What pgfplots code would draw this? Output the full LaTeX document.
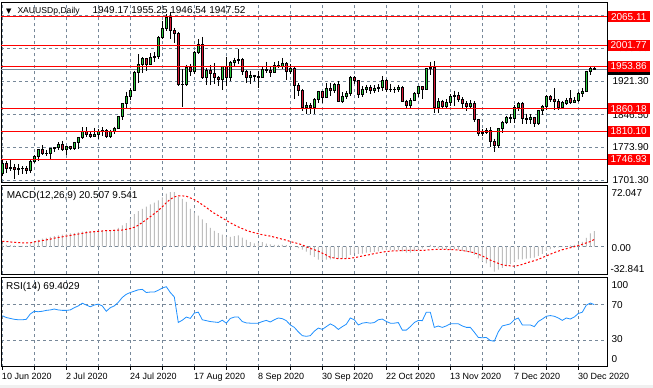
\documentclass[border=0pt]{standalone}
\usepackage{pgfplots}
\pgfplotsset{compat=1.18}
\usepackage{pgfplotstable}
\usepackage{fontspec}
\setmainfont{Liberation Sans}
\newfontfamily\dejavu{DejaVu Sans}
\newcommand\mtf{\fontsize{9}{10}\selectfont}
\definecolor{mtgrid}{RGB}{119,136,153}
\definecolor{bull}{RGB}{40,200,60}
\definecolor{bear}{RGB}{215,25,55}
\definecolor{histgray}{RGB}{190,190,190}
\definecolor{rsiblue}{RGB}{30,144,255}
\definecolor{lvl}{RGB}{255,0,0}

\pgfplotstableread{
i O H L C
0 1715 1745 1709 1738
1 1738 1744 1717 1727
2 1727 1745 1721 1729
3 1729 1737 1704 1725
4 1725 1736 1712 1727
5 1727 1732 1714 1726
6 1726 1731 1715 1722
7 1722 1745 1716 1743
8 1743 1756 1739 1754
9 1754 1769 1744 1768
10 1768 1779 1757 1761
11 1761 1768 1754 1760
12 1760 1772 1747 1771
13 1771 1774 1763 1773
14 1773 1785 1767 1781
15 1781 1788 1765 1769
16 1769 1776 1757 1775
17 1775 1777 1768 1772
18 1772 1786 1767 1784
19 1784 1797 1771 1795
20 1795 1818 1792 1809
21 1809 1818 1797 1803
22 1803 1808 1794 1799
23 1799 1817 1796 1802
24 1802 1814 1793 1809
25 1809 1818 1800 1811
26 1811 1814 1795 1797
27 1797 1813 1794 1810
28 1810 1820 1804 1817
29 1817 1843 1816 1842
30 1842 1872 1835 1871
31 1871 1898 1862 1888
32 1888 1905 1879 1901
33 1901 1945 1899 1941
34 1941 1981 1918 1958
35 1958 1975 1939 1971
36 1971 1974 1945 1958
37 1958 1984 1957 1975
38 1975 1986 1964 1977
39 1977 2021 1971 2019
40 2019 2055 2016 2038
41 2038 2070 2034 2063
42 2063 2075 2015 2035
43 2035 2040 2007 2028
44 2028 2032 1910 1913
45 1913 1949 1863 1915
46 1915 1958 1910 1953
47 1953 1960 1933 1944
48 1944 1989 1937 1985
49 1985 2015 1982 2003
50 2003 2020 1927 1929
51 1929 1951 1912 1946
52 1946 1957 1913 1938
53 1938 1961 1916 1929
54 1929 1932 1911 1926
55 1926 1955 1901 1954
56 1954 1976 1911 1930
57 1930 1966 1922 1964
58 1964 1974 1954 1968
59 1968 1992 1960 1970
60 1970 1973 1936 1943
61 1943 1946 1917 1930
62 1930 1945 1915 1934
63 1934 1936 1922 1931
64 1931 1945 1906 1930
65 1930 1953 1928 1947
66 1947 1965 1940 1946
67 1946 1952 1931 1941
68 1941 1964 1939 1956
69 1956 1966 1950 1955
70 1955 1973 1948 1960
71 1960 1963 1923 1944
72 1944 1959 1938 1950
73 1950 1955 1882 1912
74 1912 1917 1889 1900
75 1900 1904 1854 1863
76 1863 1875 1849 1868
77 1868 1873 1849 1862
78 1862 1883 1848 1881
79 1881 1900 1872 1898
80 1898 1900 1872 1886
81 1886 1917 1883 1906
82 1906 1918 1889 1900
83 1900 1918 1895 1913
84 1913 1921 1874 1877
85 1877 1896 1873 1888
86 1888 1900 1881 1894
87 1894 1933 1889 1930
88 1930 1933 1916 1922
89 1922 1924 1883 1891
90 1891 1911 1885 1902
91 1902 1913 1895 1908
92 1908 1913 1892 1900
93 1900 1912 1895 1905
94 1905 1914 1897 1907
95 1907 1932 1900 1924
96 1924 1927 1897 1904
97 1904 1916 1898 1902
98 1902 1909 1894 1903
99 1903 1912 1898 1908
100 1908 1911 1875 1877
101 1877 1880 1859 1868
102 1868 1884 1861 1879
103 1879 1897 1876 1894
104 1894 1911 1886 1909
105 1909 1910 1882 1904
106 1904 1951 1903 1949
107 1949 1965 1935 1951
108 1951 1966 1850 1862
109 1862 1883 1851 1877
110 1877 1880 1860 1866
111 1866 1881 1862 1873
112 1873 1892 1865 1888
113 1888 1900 1865 1889
114 1889 1898 1874 1881
115 1881 1885 1862 1872
116 1872 1877 1855 1866
117 1866 1879 1862 1871
118 1871 1876 1830 1837
119 1837 1838 1800 1805
120 1805 1814 1800 1808
121 1808 1816 1804 1811
122 1811 1819 1775 1788
123 1788 1793 1764 1777
124 1777 1817 1773 1815
125 1815 1833 1806 1830
126 1830 1844 1826 1841
127 1841 1848 1828 1839
128 1839 1867 1827 1863
129 1863 1875 1854 1871
130 1871 1875 1826 1839
131 1839 1849 1825 1837
132 1837 1848 1825 1840
133 1840 1842 1820 1828
134 1828 1857 1823 1855
135 1855 1869 1846 1864
136 1864 1890 1856 1887
137 1887 1890 1874 1881
138 1881 1906 1856 1876
139 1876 1882 1858 1862
140 1862 1878 1860 1874
141 1872 1884 1868 1879
142 1882 1901 1870 1875
143 1875 1885 1872 1878
144 1878 1896 1874 1895
145 1895 1906 1885 1899
146 1899 1945 1897 1943
147 1943 1953 1935 1950
148 1949.17 1955.25 1946.54 1947.52
}\candles

\pgfplotstableread{
i h s
0 3 7.2
1 2.5 6.8
2 2 6.3
3 1.5 5.9
4 1 5.4
5 1 5.0
6 1 5.0
7 3 5.0
8 6 6.3
9 9 7.2
10 10.5 8.1
11 11.5 9
12 13 9.9
13 14 11.3
14 15 12.2
15 16 13
16 17 14
17 17.5 14.9
18 18 15.8
19 19 16.7
20 20 17.6
21 20.5 18.5
22 20 19.4
23 20.5 19.8
24 21 20.3
25 21.5 20.7
26 21 21.2
27 21.5 21.2
28 22.5 21.6
29 25 22
30 28 22
31 31 23
32 37 23.9
33 43 25.7
34 47 28.4
35 50 32
36 53 35.6
37 56 39.6
38 58 43.7
39 61 47.7
40 65 52.7
41 70 58
42 72.047 62.6
43 72 65.7
44 66 67
45 63 67
46 59 66.6
47 50 64.4
48 45 62.1
49 41 59
50 36 55.4
51 31 51.8
52 25 47.7
53 21 44.1
54 18 41
55 16 37.8
56 13 34.7
57 13 31.5
58 14 28.8
59 15 26.1
60 12 23.9
61 9 21.6
62 6 19.8
63 4.5 18.5
64 5 17.1
65 6 15.8
66 4 14.9
67 3 14
68 2.5 12.6
69 2.5 11.3
70 2.5 9.9
71 2 8.6
72 1 6.8
73 0 5.4
74 -2 4.1
75 -4 2.3
76 -6.5 0
77 -11 -2.3
78 -13.5 -4
79 -17 -5.9
80 -17.5 -8.5
81 -17 -11
82 -16.7 -14
83 -15.3 -14.9
84 -15.8 -15.8
85 -15.8 -15.8
86 -15.3 -15.8
87 -10.8 -15.3
88 -8.6 -14.4
89 -9.5 -13.5
90 -9 -12.2
91 -7.7 -11.3
92 -7.2 -10.4
93 -6.8 -9
94 -6.3 -8.1
95 -4 -7.2
96 -4 -6.3
97 -4.5 -5.9
98 -5 -5.4
99 -4.5 -5.4
100 -6.3 -5
101 -7.7 -5
102 -7.7 -5
103 -5.8 -5
104 -3.2 -5
105 -2.3 -5
106 0.5 -4.5
107 2.3 -4
108 -1 -3.6
109 -2.3 -3.6
110 -3.2 -3.6
111 -3.6 -3.6
112 -3.2 -4
113 -3.2 -4
114 -4 -4.5
115 -5.4 -5
116 -6.8 -5.9
117 -7.7 -6.8
118 -10.8 -8.1
119 -15.3 -9.9
120 -18.9 -12.2
121 -22 -14.9
122 -27 -17.6
123 -32.841 -19.8
124 -30.2 -22
125 -27.9 -23.9
126 -25.7 -24.8
127 -23 -25.2
128 -19.8 -25.7
129 -16.7 -24.8
130 -16.7 -23.4
131 -15.8 -21.6
132 -14.9 -19.8
133 -14.4 -18.5
134 -12.2 -16.7
135 -9.5 -14.4
136 -5.4 -12.2
137 -3.2 -9.9
138 -1.4 -7.7
139 -0.9 -5.9
140 -0.5 -4
141 0.5 -2.7
142 1.8 -1.4
143 2.3 0
144 4 1.4
145 6.3 3.2
146 11.7 5
147 17.6 6.8
148 20.507 9.541
}\macd

\pgfplotstableread{
i r
0 57
1 55
2 54
3 53
4 52.5
5 52.5
6 53
7 59
8 62
9 61.5
10 62
11 63
12 63.5
13 64.5
14 63.5
15 63
16 63
17 63.5
18 66
19 68
20 71
21 69
22 67
23 69
24 70
25 68
26 62
27 66
28 68
29 72
30 77.5
31 81
32 83
33 84.5
34 86
35 86.5
36 83
37 83.5
38 83.5
39 85.5
40 88
41 89.5
42 83
43 78
44 49.5
45 52
46 55.5
47 54
48 60
49 61
50 52.5
51 51.5
52 50.5
53 50
54 49.5
55 52
56 48.7
57 54
58 55.5
59 55.5
60 50.5
61 49
62 48.7
63 48.7
64 48.7
65 50.5
66 51.8
67 50
68 52.5
69 54.5
70 53.7
71 51.5
72 46.7
73 44
74 39
75 34.7
76 34
77 34.7
78 39.7
79 43.2
80 41.7
81 44.8
82 47.9
83 45.6
84 41.7
85 44.8
86 47.5
87 54.5
88 52.5
89 46.7
90 48.7
91 49.4
92 48.7
93 49.4
94 52.5
95 53.3
96 50.6
97 48.7
98 48.7
99 49.4
100 40.9
101 40.9
102 44.8
103 49.4
104 51.8
105 51.5
106 61
107 61
108 44
109 45.5
110 44
111 45.6
112 48
113 48
114 48
115 45.6
116 44
117 44
118 38.6
119 32.7
120 32.4
121 32.7
122 29.3
123 28.5
124 39
125 45.6
126 46.7
127 47.9
128 52.5
129 54.5
130 46.7
131 46.7
132 46.7
133 44.8
134 50.6
135 53.3
136 56.4
137 57.2
138 56.4
139 54.5
140 51.8
141 54.5
142 53.3
143 55.6
144 59.5
145 61
146 68.8
147 71.2
148 69.4029
}\rsi

\pgfplotsset{
  mtpanel/.style={
    scale only axis, width=606pt, anchor=south west,
    xmin=-0.325, xmax=151.175,
    axis line style={black, line width=0.8pt},
    xtick={0,8,...,144},
    xmajorgrids, ymajorgrids,
    major grid style={mtgrid, line width=0.6pt, dash pattern=on 3pt off 3pt},
    major tick length=0pt,
    yticklabels={},
    clip mode=individual,
    every node/.append style={font=\mtf},
  },
}
\tikzset{pricebox/.style={anchor=west, inner sep=0pt, minimum width=42pt, minimum height=11pt, text=white}}

\begin{document}
\begin{tikzpicture}
\useasboundingbox (0pt,0pt) rectangle (653pt,388pt);
\fill[white] (0pt,0pt) rectangle (653pt,388pt);
\fill[gray!12] (0pt,0pt) rectangle (653pt,3pt);

% ---------------- main price panel ----------------
\begin{axis}[mtpanel, at={(1pt,205.5pt)}, height=180.5pt,
  ymin=1695.3, ymax=2097.8,
  ytick={1701.3,1773.9,1846.5,1921.3,1994.5,2067.3},
  xticklabels={}]
  % bid line
  \addplot[mtgrid, line width=0.8pt, forget plot] coordinates {(-0.325,1947.52) (151.175,1947.52)};
  % candles
  \addplot[scatter, only marks, mark=*, mark size=0pt, mark options={draw=none,fill=none},
    point meta=y,
    visualization depends on={\thisrow{H}-\thisrow{C} \as \vH},
    visualization depends on={\thisrow{L}-\thisrow{C} \as \vL},
    visualization depends on={\thisrow{O}-\thisrow{C} \as \vO},
    scatter/@pre marker code/.code={%
      \pgfmathtruncatemacro\isbear{\vO>0}%
      \ifnum\isbear=1 \def\cfill{bear}\else\def\cfill{bull}\fi
      \draw[black, line width=0.9pt] (axis direction cs:0,\vH) -- (axis direction cs:0,\vL);
      \filldraw[fill=\cfill, draw=black, line width=0.8pt] (axis direction cs:-0.3,0) rectangle (axis direction cs:0.3,\vO);
    },
    scatter/@post marker code/.code={}
  ] table[x=i, y=C] {\candles};
  % horizontal levels
  \addplot[lvl, line width=1pt] coordinates {(-0.325,2065.11) (151.175,2065.11)};
  \addplot[lvl, line width=1pt] coordinates {(-0.325,2001.77) (151.175,2001.77)};
  \addplot[lvl, line width=1pt] coordinates {(-0.325,1953.86) (151.175,1953.86)};
  \addplot[lvl, line width=1pt] coordinates {(-0.325,1860.18) (151.175,1860.18)};
  \addplot[lvl, line width=1pt] coordinates {(-0.325,1810.10) (151.175,1810.10)};
  \addplot[lvl, line width=1pt] coordinates {(-0.325,1746.93) (151.175,1746.93)};
  % price scale labels (some partly hidden behind the price boxes, as in MT4)
  \node[anchor=west, inner sep=0pt] at (axis cs:152.5,1994.5) {1993.90};
  \node[anchor=west, inner sep=0pt] at (axis cs:152.5,1921.3) {1921.30};
  \node[anchor=west, inner sep=0pt] at (axis cs:152.5,1846.5) {1846.50};
  \node[anchor=west, inner sep=0pt] at (axis cs:152.5,1773.9) {1773.90};
  \node[anchor=west, inner sep=0pt] at (axis cs:152.5,1701.3) {1701.30};
  \node[pricebox, fill=black] at (axis cs:151.3,1947.52) {1947.52};
  \node[pricebox, fill=lvl] at (axis cs:151.3,2065.11) {2065.11};
  \node[pricebox, fill=lvl] at (axis cs:151.3,2001.77) {2001.77};
  \node[pricebox, fill=lvl] at (axis cs:151.3,1953.86) {1953.86};
  \node[pricebox, fill=lvl] at (axis cs:151.3,1860.18) {1860.18};
  \node[pricebox, fill=lvl] at (axis cs:151.3,1810.10) {1810.10};
  \node[pricebox, fill=lvl] at (axis cs:151.3,1746.93) {1746.93};
  % title
  \node[anchor=center, inner sep=0pt, font=\dejavu\fontsize{7}{8}\selectfont] at (rel axis cs:0.0127,0.947) {▼};
  \node[anchor=base west, inner sep=0pt, font=\fontsize{8.6}{10}\selectfont] at (rel axis cs:0.0269,0.935) {XAUUSDp,Daily};
  \node[anchor=base west, inner sep=0pt] at (rel axis cs:0.1507,0.935) {1949.17 1955.25 1946.54 1947.52};
\end{axis}

% ---------------- MACD panel ----------------
\begin{axis}[mtpanel, at={(1pt,113.7pt)}, height=89.3pt,
  ymin=-36.4, ymax=81.4, ytick={0}, xticklabels={}]
  \addplot[ybar, bar width=1pt, fill=histgray, draw=none] table[x=i, y=h] {\macd};
  \addplot[lvl, line width=1pt, dash pattern=on 2pt off 2pt] table[x=i, y=s] {\macd};
  \node[anchor=base west, inner sep=0pt] at (rel axis cs:0.0094,0.854) {MACD(12,26,9) 20.507 9.541};
  \node[anchor=west, inner sep=0pt] at (axis cs:152.25,71.3) {72.047};
  \node[anchor=west, inner sep=0pt] at (axis cs:152.25,-1.3) {0.00};
  \node[anchor=west, inner sep=0pt] at (axis cs:152.0,-29.4) {-32.841};
\end{axis}

% ---------------- RSI panel ----------------
\begin{axis}[mtpanel, at={(1pt,21.3pt)}, height=89.4pt,
  ymin=0, ymax=100, ytick={30,70},
  major tick length=3pt, tick align=outside, xtick pos=left,
  ytick style={draw=none}, xtick style={black, line width=0.8pt},
  xticklabels={10 Jun 2020,,2 Jul 2020,,24 Jul 2020,,17 Aug 2020,,8 Sep 2020,,30 Sep 2020,,22 Oct 2020,,13 Nov 2020,,7 Dec 2020,,30 Dec 2020},
  xticklabel style={anchor=north west, inner sep=0pt, xshift=-0.5pt, yshift=-3.3pt, font=\mtf}]
  \addplot[rsiblue, line width=0.8pt] table[x=i, y=r] {\rsi};
  \node[anchor=base west, inner sep=0pt] at (rel axis cs:0.0083,0.862) {RSI(14) 69.4029};
  \node[anchor=west, inner sep=0pt] at (axis cs:152.25,91.7) {100};
  \node[anchor=west, inner sep=0pt] at (axis cs:152.25,69) {70};
  \node[anchor=west, inner sep=0pt] at (axis cs:152.25,31) {30};
  \node[anchor=west, inner sep=0pt] at (axis cs:152.25,8.3) {0};
\end{axis}
\end{tikzpicture}
\end{document}
